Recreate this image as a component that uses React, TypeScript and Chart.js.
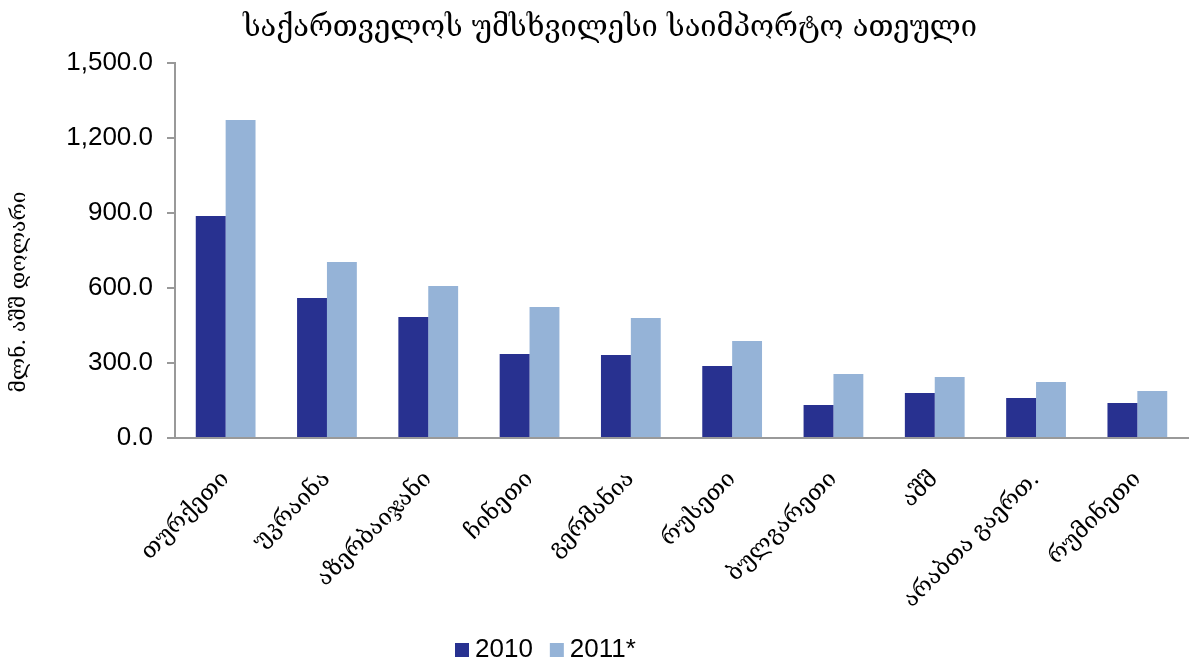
import React, { useEffect, useRef } from "react";
import { Chart, registerables } from "chart.js";

Chart.register(...registerables);

const categories = [
  "თურქეთი",
  "უკრაინა",
  "აზერბაიჯანი",
  "ჩინეთი",
  "გერმანია",
  "რუსეთი",
  "ბულგარეთი",
  "აშშ",
  "არაბთა გაერთ.",
  "რუმინეთი",
];
const values2010 = [888, 560, 484, 336, 332, 288, 132, 180, 160, 140];
const values2011 = [1272, 704, 608, 524, 480, 388, 256, 244, 224, 188];
const seriesLabels = ["2010", "2011*"];
const seriesColors = ["#283190", "#95B3D7"];
const titleText = "საქართველოს უმსხვილესი საიმპორტო ათეული";
const yAxisTitle = "მლნ. აშშ დოლარი";

const GEO_FONT = "'DejaVu Serif', 'DejaVu Sans', serif";
const NUM_FONT = "'Liberation Sans', Arial, sans-serif";

const decorPlugin = {
  id: "decor",
  afterDraw(chart: any) {
    const ctx = chart.ctx;
    // Title
    ctx.save();
    ctx.font = `29px ${GEO_FONT}`;
    ctx.fillStyle = "#000";
    ctx.textAlign = "center";
    ctx.textBaseline = "middle";
    ctx.fillText(titleText, 610, 28);
    ctx.restore();

    // Y-axis title
    ctx.save();
    ctx.translate(20, 292);
    ctx.rotate(-Math.PI / 2);
    ctx.font = `21px ${GEO_FONT}`;
    ctx.fillStyle = "#000";
    ctx.textAlign = "center";
    ctx.textBaseline = "middle";
    ctx.fillText(yAxisTitle, 0, 0);
    ctx.restore();

    // Legend
    ctx.save();
    ctx.font = `26px ${NUM_FONT}`;
    ctx.textBaseline = "middle";
    ctx.textAlign = "left";
    let x = 455;
    const cy = 650;
    chart.data.datasets.forEach((ds: any) => {
      ctx.fillStyle = ds.backgroundColor;
      ctx.fillRect(x, cy - 7, 14, 14);
      ctx.fillStyle = "#000";
      ctx.fillText(ds.label, x + 20, cy);
      x += 20 + ctx.measureText(ds.label).width + 17;
    });
    ctx.restore();
  },
};

export default function App() {
  const ref = useRef<HTMLCanvasElement | null>(null);

  useEffect(() => {
    if (!ref.current) return;
    const chart = new Chart(ref.current, {
      type: "bar",
      data: {
        labels: categories,
        datasets: [
          {
            label: seriesLabels[0],
            data: values2010,
            backgroundColor: seriesColors[0],
            categoryPercentage: 0.59,
            barPercentage: 1,
          },
          {
            label: seriesLabels[1],
            data: values2011,
            backgroundColor: seriesColors[1],
            categoryPercentage: 0.59,
            barPercentage: 1,
          },
        ],
      },
      plugins: [decorPlugin],
      options: {
        responsive: false,
        animation: false,
        layout: { padding: { left: 0, right: 4, top: 63, bottom: 0 } },
        plugins: {
          title: { display: false },
          legend: { display: false },
          tooltip: { enabled: false },
        },
        scales: {
          x: {
            grid: { display: true, drawOnChartArea: false, drawTicks: false },
            border: { display: true, color: "#999", width: 2 },
            ticks: {
              color: "#000",
              maxRotation: 45,
              minRotation: 45,
              padding: 28,
              font: { family: GEO_FONT, size: 23 },
            },
            afterFit: (scale: any) => {
              scale.height = 225;
            },
          },
          y: {
            min: 0,
            max: 1500,
            ticks: {
              stepSize: 300,
              color: "#000",
              padding: 14,
              font: { family: NUM_FONT, size: 26 },
              callback: (v: any) =>
                Number(v).toLocaleString("en-US", {
                  minimumFractionDigits: 1,
                  maximumFractionDigits: 1,
                }),
            },
            grid: {
              display: true,
              drawOnChartArea: false,
              drawTicks: true,
              tickLength: 8,
              color: "#999",
              lineWidth: 2,
            },
            border: { display: true, color: "#999", width: 2 },
            afterFit: (scale: any) => {
              scale.width = 175;
            },
          },
        },
      },
    });
    return () => chart.destroy();
  }, []);

  return (
    <div style={{ position: "fixed", left: 0, top: 0, width: 1192, height: 663, background: "#fff" }}>
      <canvas ref={ref} width={1192} height={663} />
    </div>
  );
}
